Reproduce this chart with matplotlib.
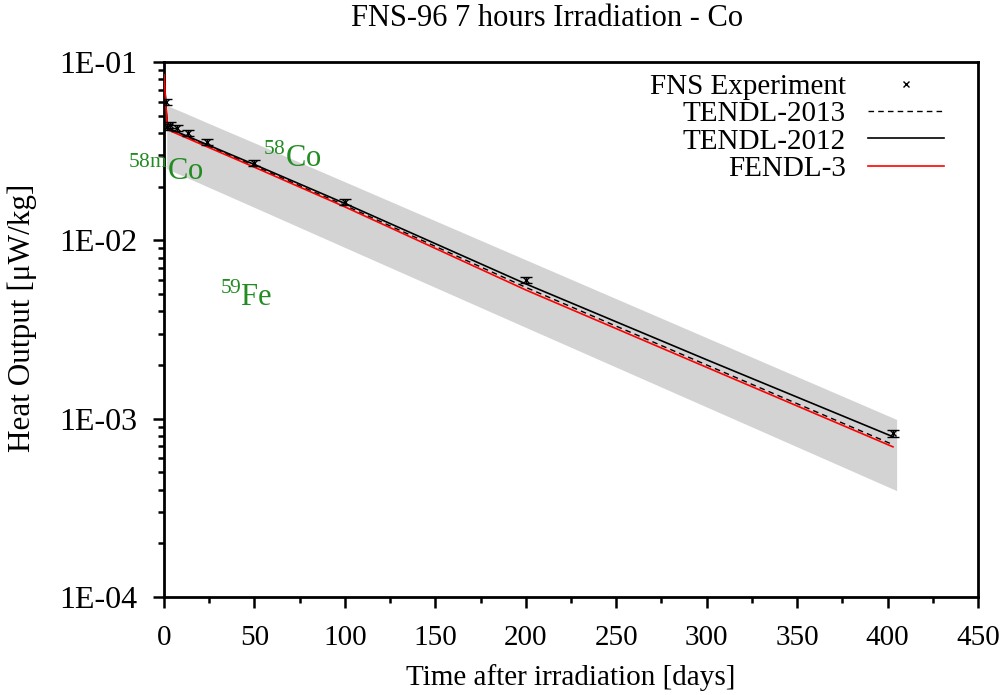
import numpy as np
import matplotlib
matplotlib.use("Agg")
import matplotlib.pyplot as plt
from matplotlib.ticker import MultipleLocator, FuncFormatter, LogLocator, NullFormatter

plt.rcParams["font.family"] = ["Liberation Serif", "DejaVu Serif"]
plt.rcParams["mathtext.fontset"] = "custom"
plt.rcParams["mathtext.rm"] = "Liberation Serif"
plt.rcParams["font.size"] = 21

# ── Data ─────────────────────────────────────────────────────────
exp_t   = [1.2, 1.8, 3.3, 7, 13, 24, 50, 100, 200, 403]
exp_val = [5.97e-2, 4.34e-2, 4.45e-2, 4.25e-2, 4.01e-2, 3.55e-2,
           2.72e-2, 1.65e-2, 5.99e-3, 8.27e-4]
exp_err = [2.4e-3, 1.7e-3, 1.8e-3, 1.7e-3, 1.6e-3, 1.4e-3,
           1.1e-3, 6.6e-4, 2.4e-4, 3.3e-5]

calc_t    = [0, 0.5, 1, 1.5, 2, 2.5, 50, 100, 200, 300, 403]
tendl2013 = [8.5e-2, 7.05e-2, 5.85e-2, 4.85e-2, 4.35e-2, 4.2e-2,
             2.61e-2, 1.57e-2, 5.45e-3, 2.0e-3, 7.15e-4]
tendl2012 = [8.6e-2, 7.1e-2, 5.9e-2, 4.9e-2, 4.4e-2, 4.25e-2,
             2.66e-2, 1.61e-2, 5.7e-3, 2.14e-3, 7.92e-4]
fendl3    = [8.5e-2, 7.0e-2, 5.8e-2, 4.8e-2, 4.3e-2, 4.15e-2,
             2.57e-2, 1.54e-2, 5.27e-3, 1.94e-3, 6.95e-4]

band_t  = [1.5, 3.3, 7, 13, 24, 50, 100, 200, 405]
band_hi = [5.72e-2, 5.61e-2, 5.41e-2, 5.10e-2, 4.56e-2, 3.52e-2,
           2.13e-2, 7.78e-3, 9.9e-4]
band_lo = [2.53e-2, 2.48e-2, 2.38e-2, 2.24e-2, 2.00e-2, 1.53e-2,
           9.12e-3, 3.25e-3, 3.95e-4]

# ── Figure ───────────────────────────────────────────────────────
fig = plt.figure(figsize=(10.07, 6.95), dpi=100)
ax = fig.add_axes([164 / 1007, 98 / 695, 814 / 1007, 535 / 695])

ax.fill_between(band_t, band_lo, band_hi, color="#d3d3d3", lw=0, zorder=1)

ax.plot(calc_t, tendl2013, color="black", lw=1.0, ls=(0, (4, 3)),
        label="TENDL-2013", zorder=3)
ax.plot(calc_t, tendl2012, color="black", lw=1.2, label="TENDL-2012", zorder=3)
ax.plot(calc_t, fendl3, color="red", lw=1.2, label="FENDL-3", zorder=3)

ax.errorbar(exp_t, exp_val, yerr=exp_err, fmt="none", ecolor="black",
            elinewidth=1.0, capsize=4, capthick=1.0, zorder=4)
ax.plot(exp_t, exp_val, "x", color="black", ms=5, mew=1.0,
        label="FNS Experiment", zorder=5)

ax.set_yscale("log")
ax.set_xlim(0, 450)
ax.set_ylim(1e-4, 1e-1)

ax.xaxis.set_major_locator(MultipleLocator(50))
ax.xaxis.set_minor_locator(MultipleLocator(25))
ax.yaxis.set_major_locator(LogLocator(base=10, numticks=10))
ax.yaxis.set_minor_locator(LogLocator(base=10, subs=np.arange(2, 10), numticks=10))
ax.yaxis.set_minor_formatter(NullFormatter())
ax.yaxis.set_major_formatter(
    FuncFormatter(lambda v, p: "1E-%02d" % int(round(-np.log10(v)))))

for s in ax.spines.values():
    s.set_linewidth(2.0)
ax.tick_params(which="both", direction="out", top=False, right=False, width=1.8)
ax.tick_params(which="major", length=8)
ax.tick_params(axis="y", which="major", pad=11, labelsize=23)
ax.tick_params(axis="x", which="major", pad=12, labelsize=21)
ax.tick_params(which="minor", length=4)

# isotope labels
ax.text(0.8, 0.0218, r"$^{58\mathrm{m}}$Co", color="forestgreen",
        ha="center", va="baseline", fontsize=22)
ax.text(54.5, 0.0258, r"$^{58}$Co", color="forestgreen",
        ha="left", va="baseline", fontsize=22)
ax.text(31, 0.00428, r"$^{59}$Fe", color="forestgreen",
        ha="left", va="baseline", fontsize=22)

handles, labels = ax.get_legend_handles_labels()
order = [3, 0, 1, 2]
ax.legend([handles[i] for i in order], [labels[i] for i in order],
          loc="upper right", frameon=False, markerfirst=False,
          handlelength=2.6, handletextpad=0.75, labelspacing=0.03,
          borderaxespad=0.0, fontsize=21, bbox_to_anchor=(0.972, 1.0))

fig.text(547.5 / 1007, 1 - 19 / 695, "FNS-96 7 hours Irradiation - Co",
         ha="center", va="center", fontsize=22)
fig.text(571 / 1007, 1 - 678 / 695, "Time after irradiation [days]",
         ha="center", va="center", fontsize=21)
fig.text(22 / 1007, 1 - 318 / 695, "Heat Output [μW/kg]",
         ha="center", va="center", rotation=90, fontsize=22.5)

fig.savefig("out.png", dpi=100)
